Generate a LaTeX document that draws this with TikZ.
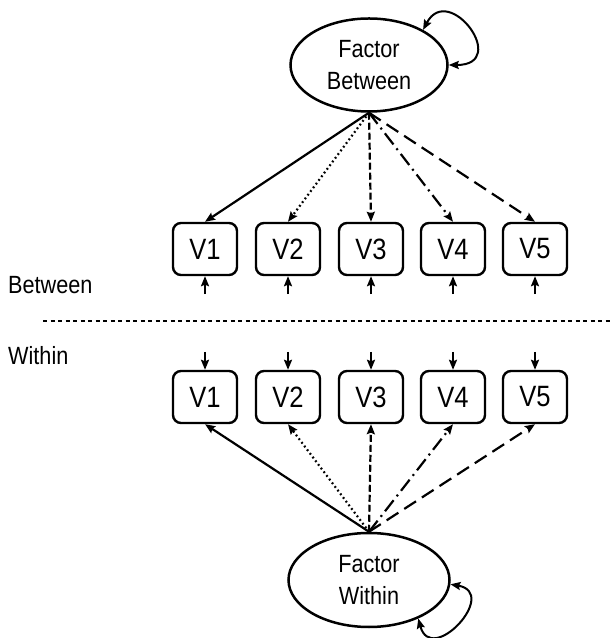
\documentclass[tikz,border=0pt]{standalone}
\usepackage{fontspec}
\setmainfont{Liberation Sans}[FakeStretch=0.87]
\usetikzlibrary{arrows.meta,positioning,shapes.geometric}

\begin{document}
\begin{tikzpicture}[x=1bp, y=1bp,
    tip/.style={-{Stealth[length=10bp,width=8bp,inset=1.5bp]}},
    twotip/.style={{Stealth[length=10bp,width=8bp,inset=1.5bp]}-{Stealth[length=10bp,width=8bp,inset=1.5bp]}},
    fac/.style={draw, ellipse, line width=2.5bp, minimum width=157bp, minimum height=93bp,
        inner sep=0pt, align=center, font=\fontsize{25}{32.5}\selectfont},
    ovar/.style={draw, rounded corners=8bp, line width=2.4bp, minimum width=64bp,
        minimum height=52bp, inner sep=0pt, font=\fontsize{29.5}{30}\selectfont},
    lbl/.style={anchor=west, inner sep=0pt, font=\fontsize{25}{26}\selectfont},
    path1/.style={solid},
    path2/.style={dash pattern=on 1.8bp off 2.8bp},
    path3/.style={dash pattern=on 7bp off 3bp},
    path4/.style={dash pattern=on 14bp off 5bp on 2bp off 5bp},
    path5/.style={dash pattern=on 14bp off 7bp}]

    \useasboundingbox (0,0) rectangle (613,638);

    % Between level
    \node[fac] (fb) at (369,573) {Factor\\Between};
    \foreach \i/\x in {1/205,2/288,3/371,4/453,5/535} {
        \node[ovar] (b\i) at (\x,389) {V\i};
        \coordinate[below=18bp of b\i.south] (eb\i);
        \draw[tip, line width=2bp] (eb\i) -- (b\i.south);
        \draw[tip, line width=2.2bp, path\i] (fb.south) -- (b\i.north);
    }
    \draw[twotip, line width=2bp] (fb.33) .. controls +(62:55) and +(0:62) .. (fb.east);

    % Level labels and divider
    \node[lbl] (between) at (8,353) {Between};
    \node[lbl] (within) at (8,282) {Within};
    \coordinate (divl) at (43,317);
    \coordinate (divr) at (613,317);
    \draw[line width=2.3bp, dash pattern=on 4bp off 3.5bp] (divl) -- (divr);

    % Within level
    \node[fac, minimum width=161bp, minimum height=94bp] (fw) at (369,58) {Factor\\Within};
    \foreach \i/\x in {1/205,2/288,3/371,4/453,5/535} {
        \node[ovar] (w\i) at (\x,241) {V\i};
        \coordinate[above=18bp of w\i.north] (ew\i);
        \draw[tip, line width=2bp] (ew\i) -- (w\i.north);
        \draw[tip, line width=2.2bp, path\i] (fw.north) -- (w\i.south);
    }
    \draw[twotip, line width=2bp] (fw.-3) .. controls +(-10:50) and +(-75:50) .. (fw.-38);

\end{tikzpicture}
\end{document}
